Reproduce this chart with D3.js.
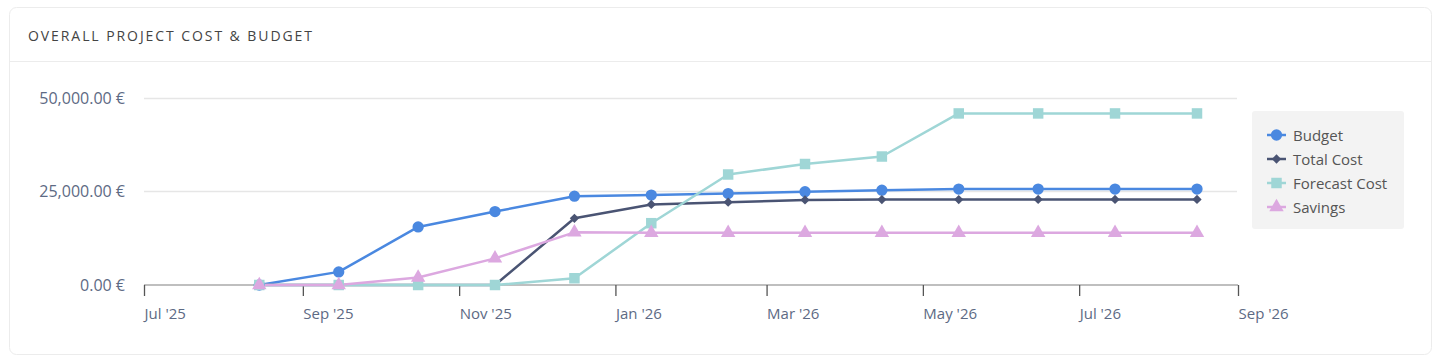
<!DOCTYPE html>
<html>
<head>
<meta charset="utf-8">
<script src="https://cdn.jsdelivr.net/npm/d3@7/dist/d3.min.js"></script>
<style>
  html, body { margin: 0; padding: 0; background: #fff; }
  body { width: 1442px; height: 364px; overflow: hidden; font-family: "Open Sans", sans-serif; }
</style>
</head>
<body>
<svg id="chart" width="1442" height="364"></svg>
<script>
const dates = ["2025-08-15","2025-09-15","2025-10-16","2025-11-15","2025-12-16","2026-01-15","2026-02-14","2026-03-16","2026-04-15","2026-05-15","2026-06-15","2026-07-15","2026-08-16"];
const budget   = [0, 3500, 15500, 19600, 23700, 24000, 24400, 24900, 25300, 25600, 25600, 25600, 25600];
const totalCost= [0, 0, 0, 0, 17800, 21500, 22100, 22700, 22800, 22800, 22850, 22850, 22850];
const forecast = [0, 0, 0, 0, 1800, 16500, 29500, 32300, 34300, 45800, 45800, 45800, 45800];
const savings  = [0, 0, 2000, 7100, 14050, 13950, 13950, 13950, 13950, 13950, 13950, 13950, 13950];
const yTicks = [0, 25000, 50000];
const xTickLabels = ["Jul '25","Sep '25","Nov '25","Jan '26","Mar '26","May '26","Jul '26","Sep '26"];
const seriesNames = ["Budget","Total Cost","Forecast Cost","Savings"];
const colors = ["#4a88e0","#4a5473","#9fd6d6","#dca8e0"];
const symbols = [d3.symbolCircle, d3.symbolDiamond2, d3.symbolSquare, d3.symbolTriangle];

const svg = d3.select("#chart");
const parse = d3.timeParse("%Y-%m-%d");
const xDates = dates.map(parse);

// card
svg.append("rect").attr("x", 9.5).attr("y", 7.5).attr("width", 1422).attr("height", 347)
  .attr("rx", 7).attr("fill", "#fff").attr("stroke", "#ececec");
svg.append("line").attr("x1", 10).attr("x2", 1431).attr("y1", 61.5).attr("y2", 61.5).attr("stroke", "#ececec");
svg.append("text").attr("x", 28).attr("y", 41).text("OVERALL PROJECT COST & BUDGET")
  .attr("font-size", 14).attr("fill", "#444")
  .attr("textLength", 284).attr("lengthAdjust", "spacing");

const x = d3.scaleTime().domain([new Date(2025, 6, 1), new Date(2026, 8, 1)]).range([144, 1238]);
const y = d3.scaleLinear().domain([0, 50000]).range([285, 97.7]);

// grid
svg.append("g").selectAll("line").data(yTicks.filter(v => v > 0)).join("line")
  .attr("x1", 144).attr("x2", 1237).attr("y1", d => Math.round(y(d)) + 0.5).attr("y2", d => Math.round(y(d)) + 0.5)
  .attr("stroke", "#e6e6e6").attr("stroke-width", 1.5);

// y labels
const fmt = d3.format(",.2f");
svg.append("g").selectAll("text").data(yTicks).join("text")
  .attr("x", 125).attr("y", d => y(d) + 6).attr("text-anchor", "end")
  .attr("font-size", 16).attr("fill", "#5d6a84").text(d => fmt(d) + " €");

// x axis
const xAxis = d3.axisBottom(x)
  .ticks(d3.timeMonth.every(2))
  .tickSize(11)
  .tickFormat((d, i) => xTickLabels[i]);
const gx = svg.append("g").attr("transform", "translate(0,285)").call(xAxis);
gx.select(".domain").attr("stroke", "#aaa").attr("stroke-width", 1.5).attr("d", "M144,0H1238");
gx.selectAll(".tick line").attr("stroke", "#555").attr("stroke-width", 1.3);
gx.selectAll(".tick text").attr("text-anchor", "start").attr("dy", 0).attr("y", 34)
  .attr("font-size", 15).attr("fill", "#5d6a84").attr("font-family", "Open Sans, sans-serif");

// series
const allSeries = [budget, totalCost, forecast, savings];
const sizes = [100, 55, 110, 90];
const line = d3.line().x((d, i) => x(xDates[i])).y(d => y(d));
allSeries.forEach((vals, si) => {
  svg.append("path").datum(vals).attr("d", line).attr("fill", "none")
    .attr("stroke", colors[si]).attr("stroke-width", 2.5).attr("stroke-linejoin", "round");
});
allSeries.forEach((vals, si) => {
  svg.append("g").selectAll("path").data(vals).join("path")
    .attr("transform", (d, i) => `translate(${x(xDates[i])},${y(d)})`)
    .attr("d", d3.symbol().type(symbols[si]).size(sizes[si]))
    .attr("fill", colors[si]);
});

// legend
const lg = svg.append("g");
lg.append("rect").attr("x", 1252).attr("y", 111).attr("width", 152).attr("height", 118)
  .attr("rx", 3).attr("fill", "#f3f3f3");
seriesNames.forEach((name, i) => {
  const yy = 135 + i * 24;
  lg.append("line").attr("x1", 1267).attr("x2", 1286).attr("y1", yy).attr("y2", yy)
    .attr("stroke", colors[i]).attr("stroke-width", 2.5);
  lg.append("path").attr("transform", `translate(1276.5,${yy})`)
    .attr("d", d3.symbol().type(symbols[i]).size(sizes[i])).attr("fill", colors[i]);
  lg.append("text").attr("x", 1293).attr("y", yy + 5.5).attr("font-size", 15).attr("fill", "#555").text(name);
});
</script>
</body>
</html>
